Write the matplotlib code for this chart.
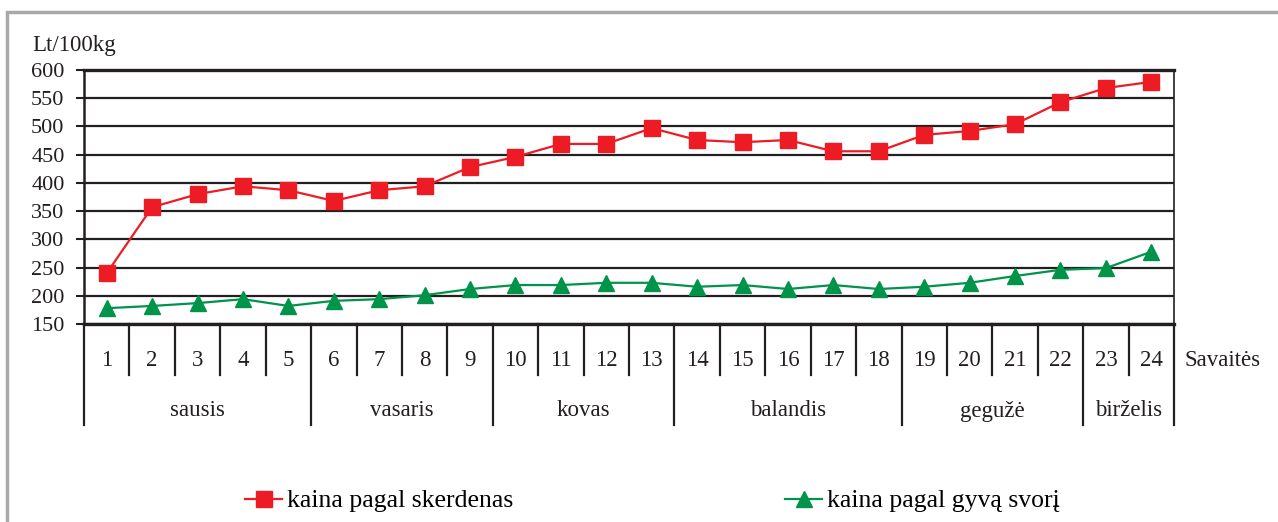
import matplotlib
matplotlib.use("Agg")
import matplotlib.pyplot as plt
from matplotlib.patches import Rectangle
from matplotlib.lines import Line2D
import matplotlib.transforms as mtransforms

plt.rcParams['font.family'] = ['Liberation Serif', 'DejaVu Serif']

weeks = [str(i) for i in range(1, 25)]
months = ["sausis", "vasaris", "kovas", "balandis", "gegužė", "birželis"]
month_weeks = [5, 4, 4, 5, 4, 2]
skerdenas = [240, 357, 380, 394, 387, 368, 387, 394, 428, 446, 469, 469,
             497, 476, 472, 476, 456, 456, 485, 492, 504, 543, 568, 579]
gyvas = [178, 182, 187, 194, 182, 191, 194, 201, 212, 219, 219, 223,
         223, 216, 219, 212, 219, 212, 216, 223, 235, 246, 249, 278]
yticks = [150, 200, 250, 300, 350, 400, 450, 500, 550, 600]

W, H = 1278, 522
fig = plt.figure(figsize=(W / 100, H / 100), dpi=100)
ax = fig.add_axes([84 / W, 1 - 324 / H, (1174 - 84) / W, (324 - 70) / H])

red = '#ed1c24'
green = '#00944a'
txt = '#231f20'
FS = 16.5
FS_TICK = 16
FS_LEG = 18.5

x = list(range(len(weeks)))
ax.plot(x, skerdenas, color=red, lw=1.6, marker='s', ms=11.5, zorder=5)
ax.plot(x, gyvas, color=green, lw=1.6, marker='^', ms=11.5, zorder=5)

ax.set_xlim(-0.5, len(weeks) - 0.5)
ax.set_ylim(150, 600)
ax.set_yticks(yticks)
ax.set_yticklabels([str(v) for v in yticks], fontsize=FS_TICK)
ax.tick_params(axis='y', length=6, width=1.5, pad=8, colors=txt)
ax.set_xticks([])
for v in yticks:
    ax.axhline(v, color=txt, lw=1.6, zorder=1)
for s in ['top', 'bottom']:
    ax.spines[s].set_linewidth(2.4)
    ax.spines[s].set_color(txt)
ax.spines['left'].set_linewidth(1.8)
ax.spines['left'].set_color(txt)
ax.spines['right'].set_linewidth(1.2)
ax.spines['right'].set_color(txt)

trans = mtransforms.blended_transform_factory(ax.transData, ax.transAxes)
wk_bottom = (324 - 375) / 254
mo_bottom = (324 - 425) / 254
boundaries = [0]
for n in month_weeks:
    boundaries.append(boundaries[-1] + n)
for b in range(len(weeks) + 1):
    yb = mo_bottom if b in boundaries else wk_bottom
    ax.add_line(Line2D([b - 0.5, b - 0.5], [0, yb], transform=trans,
                       color=txt, lw=1.6, clip_on=False))
for i, w in enumerate(weeks):
    ax.text(i, (324 - 361) / 254, w, transform=trans, ha='center', va='center',
            fontsize=FS, color=txt)
for m, a, b in zip(months, boundaries[:-1], boundaries[1:]):
    ax.text((a + b) / 2 - 0.5, (324 - 411) / 254, m, transform=trans,
            ha='center', va='center', fontsize=FS, color=txt)
ax.text(len(weeks) - 0.5 + 0.24, (324 - 361) / 254, "Savaitės", transform=trans,
        ha='left', va='center', fontsize=FS, color=txt)

fig.text(32 / W, 1 - 46 / H, "Lt/100kg", ha='left', va='center', fontsize=FS,
         color=txt)

# outer grey frame
fig.patches.append(Rectangle((7 / W, -0.2), 1.2, 1 - 12 / H + 0.2,
                             transform=fig.transFigure, fill=False,
                             edgecolor='#a7a9ac', lw=2.5))

h1 = Line2D([], [], color=red, lw=1.6, marker='s', ms=11.5)
h2 = Line2D([], [], color=green, lw=1.6, marker='^', ms=11.5)
fig.legend([h1], ["kaina pagal skerdenas"], loc='center left',
           bbox_to_anchor=(245 / W, 1 - 501 / H), frameon=False, fontsize=FS_LEG,
           handlelength=1.45, handletextpad=0.2, borderaxespad=0, borderpad=0)
fig.legend([h2], ["kaina pagal gyvą svorį"], loc='center left',
           bbox_to_anchor=(785 / W, 1 - 501 / H), frameon=False, fontsize=FS_LEG,
           handlelength=1.45, handletextpad=0.2, borderaxespad=0, borderpad=0)

fig.savefig("out.png", dpi=100)
